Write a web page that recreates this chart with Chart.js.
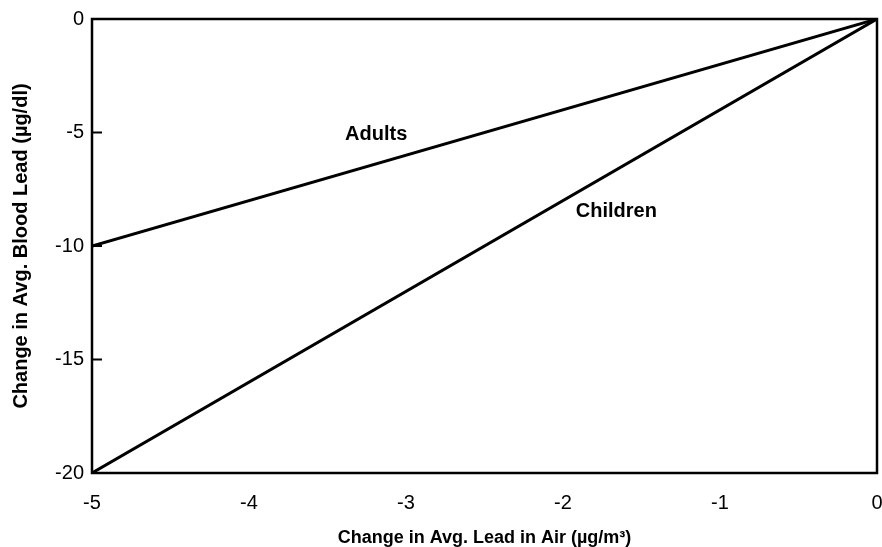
<!DOCTYPE html>
<html>
<head>
<meta charset="utf-8">
<script src="https://cdn.jsdelivr.net/npm/chart.js@4/dist/chart.umd.min.js"></script>
<style>
  html, body { margin: 0; padding: 0; background: #fff; overflow: hidden; }
  #wrap { position: relative; width: 900px; height: 547px; }
</style>
</head>
<body>
<div id="wrap"><canvas id="c" width="900" height="547"></canvas></div>
<script>
// Change in average air lead (µg/m³) at the two ends of each line
const airLead = [-5, 0];
// Corresponding change in average blood lead (µg/dl)
const adults = [-10, 0];
const children = [-20, 0];
// Axis tick values
const xTicks = [-5, -4, -3, -2, -1, 0];
const yTicks = [0, -5, -10, -15, -20];
// Line captions, anchored in data units
const captions = [
  { text: 'Adults', x: -3.19, y: -5.1 },
  { text: 'Children', x: -1.66, y: -8.5 }
];

const FONT = '"Liberation Sans", Arial, Helvetica, sans-serif';
const INK = '#000';

const toPoints = ys => airLead.map((x, i) => ({ x, y: ys[i] }));

// Frame, inward y ticks and line captions
const decor = {
  id: 'decor',
  afterDatasetsDraw(chart) {
    const { ctx, chartArea: a, scales: { x, y } } = chart;
    ctx.save();
    ctx.strokeStyle = INK;
    ctx.lineWidth = 2.5;
    ctx.strokeRect(a.left, a.top, a.right - a.left, a.bottom - a.top);
    ctx.lineWidth = 2;
    yTicks.forEach(v => {
      const py = y.getPixelForValue(v);
      ctx.beginPath();
      ctx.moveTo(a.left, py);
      ctx.lineTo(a.left + 10, py);
      ctx.stroke();
    });
    ctx.fillStyle = INK;
    ctx.font = 'bold 20px ' + FONT;
    ctx.textAlign = 'center';
    ctx.textBaseline = 'middle';
    captions.forEach(c => {
      ctx.fillText(c.text, x.getPixelForValue(c.x), y.getPixelForValue(c.y));
    });
    ctx.restore();
  }
};

new Chart(document.getElementById('c'), {
  type: 'scatter',
  data: {
    datasets: [
      { label: 'Adults', data: toPoints(adults), showLine: true },
      { label: 'Children', data: toPoints(children), showLine: true }
    ]
  },
  options: {
    responsive: false,
    animation: false,
    devicePixelRatio: 1,
    layout: { padding: { left: 0, right: 23, top: 19, bottom: 0 } },
    elements: {
      line: { borderColor: INK, borderWidth: 3, tension: 0 },
      point: { radius: 0, hoverRadius: 0 }
    },
    plugins: { legend: { display: false }, tooltip: { enabled: false } },
    scales: {
      x: {
        type: 'linear',
        min: -5, max: 0,
        afterBuildTicks(s) { s.ticks = xTicks.map(v => ({ value: v })); },
        afterFit(s) { s.height = 74; s.paddingLeft = 0; s.paddingRight = 0; },
        grid: { display: false, drawTicks: false },
        border: { display: false },
        ticks: {
          color: INK, padding: 20, maxRotation: 0, autoSkip: false,
          font: { family: FONT, size: 20, lineHeight: 1 }
        },
        title: {
          display: true,
          text: 'Change in Avg. Lead in Air (µg/m³)',
          color: INK,
          font: { family: FONT, size: 18, weight: 'bold', lineHeight: 1 },
          padding: { top: 0, bottom: 0 }
        }
      },
      y: {
        type: 'linear',
        min: -20, max: 0,
        afterBuildTicks(s) { s.ticks = yTicks.map(v => ({ value: v })); },
        afterFit(s) { s.width = 92; },
        grid: { display: false, drawTicks: false },
        border: { display: false },
        ticks: {
          color: INK, padding: 8, autoSkip: false,
          font: { family: FONT, size: 20, lineHeight: 1 }
        },
        title: {
          display: true,
          text: 'Change in Avg. Blood Lead (µg/dl)',
          color: INK,
          font: { family: FONT, size: 20, weight: 'bold', lineHeight: 1 },
          padding: { top: 11, bottom: 11 }
        }
      }
    }
  },
  plugins: [decor]
});
</script>
</body>
</html>
